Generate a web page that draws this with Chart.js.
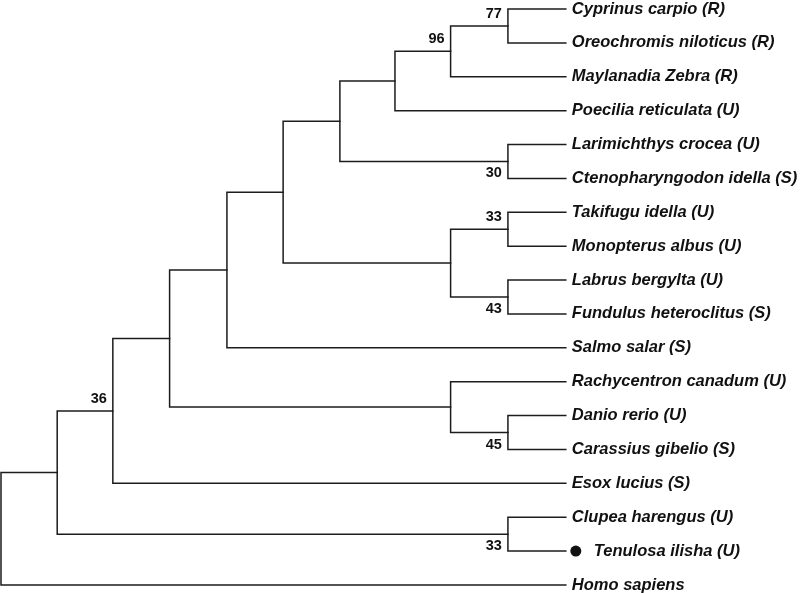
<!DOCTYPE html>
<html>
<head>
<meta charset="utf-8">
<script src="https://cdn.jsdelivr.net/npm/chart.js@4/dist/chart.umd.min.js"></script>
<style>
html,body{margin:0;padding:0;background:#fff;}
#wrap{width:800px;height:593px;}
</style>
</head>
<body>
<div id="wrap"><canvas id="c" width="800" height="593"></canvas></div>
<script>
// Leaf taxa, top to bottom
const leaves = [
  "Cyprinus carpio (R)",
  "Oreochromis niloticus (R)",
  "Maylanadia Zebra (R)",
  "Poecilia reticulata (U)",
  "Larimichthys crocea (U)",
  "Ctenopharyngodon idella (S)",
  "Takifugu idella (U)",
  "Monopterus albus (U)",
  "Labrus bergylta (U)",
  "Fundulus heteroclitus (S)",
  "Salmo salar (S)",
  "Rachycentron canadum (U)",
  "Danio rerio (U)",
  "Carassius gibelio (S)",
  "Esox lucius (S)",
  "Clupea harengus (U)",
  "Tenulosa ilisha (U)",
  "Homo sapiens"
];
const tipDepth = 10.05;
const markedLeaf = 16;

// Internal nodes (ids continue after the leaves: 18, 19, ...)
const nodeChildA = [0, 18, 19, 4, 20, 6, 8, 23, 22, 26, 12, 11, 27, 30, 15, 31, 33];
const nodeChildB = [1, 2, 3, 5, 21, 7, 9, 24, 25, 10, 13, 28, 29, 14, 16, 32, 17];
const nodeDepth  = [9.02, 8.0, 7.01, 9.02, 6.03, 9.02, 9.02, 8.0, 5.02, 4.02, 9.02, 8.0, 3.0, 1.99, 9.02, 1.0, 0];
const bootstrap  = [77, 96, null, 30, null, 33, 43, null, null, null, 45, null, null, 36, 33, null, null];
const bootDir    = [-1, -1, 0, 1, 0, -1, 1, 0, 0, 0, 1, 0, 0, -1, 1, 0, 0];

// Compute positions of every node (x = depth, y = row)
const nLeaf = leaves.length;
const X = [], Y = [];
for (let i = 0; i < nLeaf; i++) { X.push(tipDepth); Y.push(i); }
for (let k = 0; k < nodeDepth.length; k++) {
  const a = nodeChildA[k], b = nodeChildB[k];
  X.push(nodeDepth[k]);
  Y.push((Y[a] + Y[b]) / 2);
}

const lineColor = '#1c1c1c';
const datasets = nodeDepth.map((d, k) => {
  const a = nodeChildA[k], b = nodeChildB[k];
  return {
    data: [
      {x: X[a], y: Y[a]},
      {x: d, y: Y[a]},
      {x: d, y: Y[b]},
      {x: X[b], y: Y[b]}
    ],
    borderColor: lineColor,
    borderWidth: 1.5,
    pointRadius: 0,
    fill: false,
    tension: 0,
    borderCapStyle: 'square',
    borderJoinStyle: 'miter'
  };
});

const labelPlugin = {
  id: 'treeLabels',
  afterDatasetsDraw(chart) {
    const ctx = chart.ctx;
    const xs = chart.scales.x, ys = chart.scales.y;
    ctx.save();
    ctx.fillStyle = '#111';
    ctx.textBaseline = 'middle';
    ctx.textAlign = 'left';
    ctx.font = 'italic bold 16.5px "Liberation Sans", Arial, sans-serif';
    const tipPx = xs.getPixelForValue(tipDepth);
    leaves.forEach((name, i) => {
      const py = ys.getPixelForValue(i);
      let tx = tipPx + 6;
      if (i === markedLeaf) {
        ctx.beginPath();
        ctx.arc(tipPx + 10, py, 5.5, 0, Math.PI * 2);
        ctx.fill();
        tx = tipPx + 28;
      }
      ctx.fillText(name, tx, py);
    });
    ctx.font = 'bold 14.5px "Liberation Sans", Arial, sans-serif';
    ctx.textAlign = 'right';
    nodeDepth.forEach((d, k) => {
      if (bootstrap[k] == null) return;
      const id = nLeaf + k;
      const px = xs.getPixelForValue(X[id]);
      const py = ys.getPixelForValue(Y[id]);
      ctx.fillText(String(bootstrap[k]), px - 6, py + bootDir[k] * 12);
    });
    ctx.restore();
  }
};

const pxPerUnitX = 56.2;
const pxPerRow = 33.88;
new Chart(document.getElementById('c'), {
  type: 'line',
  data: { datasets },
  options: {
    responsive: false,
    animation: false,
    parsing: true,
    layout: { padding: 0 },
    plugins: { legend: { display: false }, tooltip: { enabled: false } },
    scales: {
      x: { type: 'linear', display: false, min: -1 / pxPerUnitX, max: -1 / pxPerUnitX + 800 / pxPerUnitX },
      y: { type: 'linear', display: false, reverse: true, min: -9 / pxPerRow, max: -9 / pxPerRow + 593 / pxPerRow }
    },
    elements: { line: { clip: false } }
  },
  plugins: [labelPlugin]
});
</script>
</body>
</html>
